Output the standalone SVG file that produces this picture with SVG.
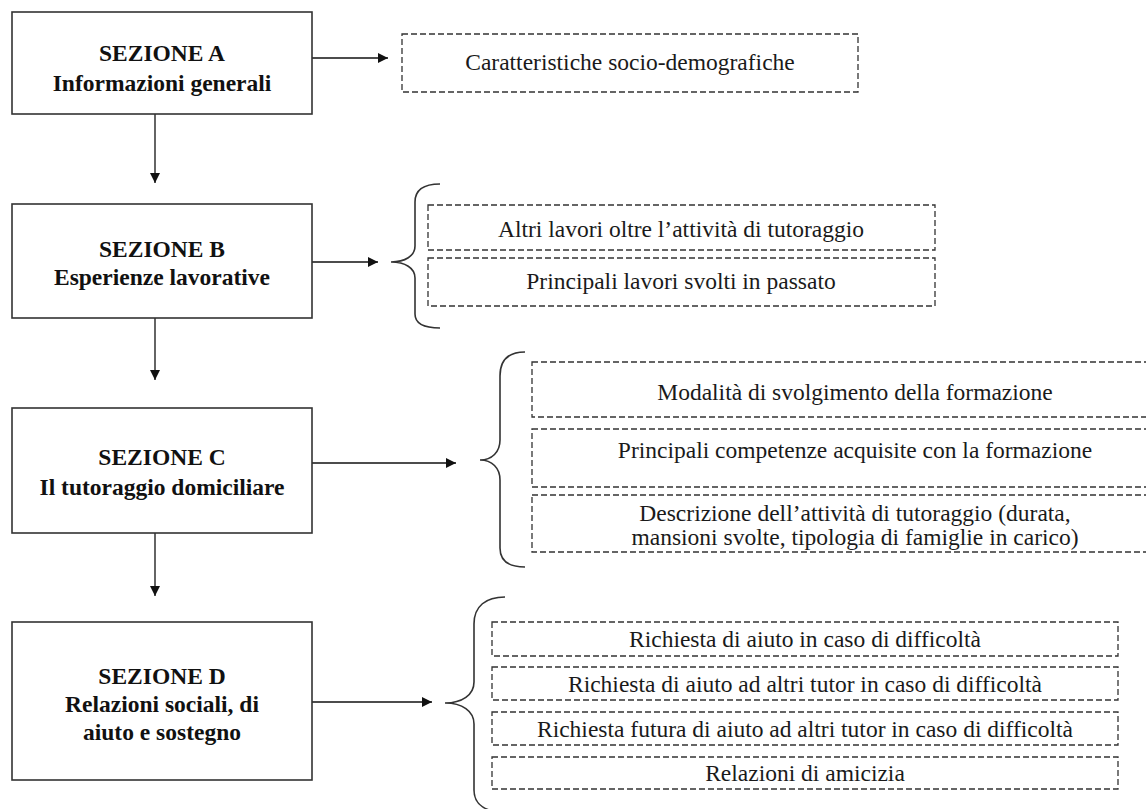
<svg xmlns="http://www.w3.org/2000/svg" width="1146" height="809" viewBox="0 0 1146 809">
  <defs>
    <marker id="arrow" viewBox="0 0 10 10" refX="10" refY="5" markerWidth="10" markerHeight="10" markerUnits="userSpaceOnUse" orient="auto">
      <path d="M0,0 L10,5 L0,10 Z" fill="#111"/>
    </marker>
    <style>
      .section { fill: #fff; stroke: #333; stroke-width: 1.6; }
      .item { fill: #fff; stroke: #333; stroke-width: 1.3; stroke-dasharray: 6 3; }
      .title { font-family: "Liberation Serif", "DejaVu Serif", serif; font-weight: bold; font-size: 23.5px; fill: #111; text-anchor: middle; }
      .label { font-family: "Liberation Serif", "DejaVu Serif", serif; font-size: 23.5px; fill: #1a1a1a; text-anchor: middle; }
      .conn { fill: none; stroke: #111; stroke-width: 1.3; }
      .brace { fill: none; stroke: #333; stroke-width: 1.6; }
    </style>
  </defs>
  <rect width="1146" height="809" fill="#fff"/>

  <!-- Connectors -->
  <g id="connectors">
    <line class="conn" x1="312" y1="58" x2="388" y2="58" marker-end="url(#arrow)"/>
    <line class="conn" x1="155" y1="114" x2="155" y2="183" marker-end="url(#arrow)"/>
    <line class="conn" x1="312" y1="262" x2="378" y2="262" marker-end="url(#arrow)"/>
    <line class="conn" x1="155" y1="318" x2="155" y2="380" marker-end="url(#arrow)"/>
    <line class="conn" x1="312" y1="463" x2="456" y2="463" marker-end="url(#arrow)"/>
    <line class="conn" x1="155" y1="533" x2="155" y2="596" marker-end="url(#arrow)"/>
    <line class="conn" x1="312" y1="702" x2="432" y2="702" marker-end="url(#arrow)"/>
    <!-- curly braces grouping the items -->
    <path class="brace" d="M440,184 C424,184 415,189 415,202 L415,246 C415,256 405,262 391,262 C405,262 415,268 415,278 L415,314 C415,324 424,328 440,328"/>
    <path class="brace" d="M525,352 C508,352 500,360 500,376 L500,440 C500,452 492,460 480,460 C492,460 500,468 500,480 L500,548 C500,560 508,567 525,567"/>
    <path class="brace" d="M505,597 C486,597 474,606 474,624 L474,682 C474,695 462,703 445,703 C462,703 474,711 474,724 L474,790 C474,805 486,812 505,812"/>
  </g>

  <!-- Section A -->
  <g id="sezione-a">
    <rect class="section" x="12" y="12" width="300" height="102"/>
    <text class="title" x="162" y="61">SEZIONE A</text>
    <text class="title" x="162" y="91">Informazioni generali</text>
  </g>
  <g id="item-a1">
    <rect class="item" x="402" y="34" width="456" height="58"/>
    <text class="label" x="630" y="70">Caratteristiche socio-demografiche</text>
  </g>

  <!-- Section B -->
  <g id="sezione-b">
    <rect class="section" x="12" y="204" width="300" height="114"/>
    <text class="title" x="162" y="257">SEZIONE B</text>
    <text class="title" x="162" y="285">Esperienze lavorative</text>
  </g>
  <g id="item-b1">
    <rect class="item" x="428" y="205" width="507" height="45"/>
    <text class="label" x="681" y="237">Altri lavori oltre l’attività di tutoraggio</text>
  </g>
  <g id="item-b2">
    <rect class="item" x="428" y="258" width="507" height="48"/>
    <text class="label" x="681" y="289">Principali lavori svolti in passato</text>
  </g>

  <!-- Section C -->
  <g id="sezione-c">
    <rect class="section" x="12" y="408" width="300" height="125"/>
    <text class="title" x="162" y="465">SEZIONE C</text>
    <text class="title" x="162" y="495">Il tutoraggio domiciliare</text>
  </g>
  <g id="item-c1">
    <rect class="item" x="532" y="362" width="640" height="55"/>
    <text class="label" x="855" y="400">Modalità di svolgimento della formazione</text>
  </g>
  <g id="item-c2">
    <rect class="item" x="532" y="429" width="640" height="58"/>
    <text class="label" x="855" y="458">Principali competenze acquisite con la formazione</text>
  </g>
  <g id="item-c3">
    <rect class="item" x="532" y="495" width="640" height="57"/>
    <text class="label" x="855" y="521">Descrizione dell’attività di tutoraggio (durata,</text>
    <text class="label" x="855" y="545">mansioni svolte, tipologia di famiglie in carico)</text>
  </g>

  <!-- Section D -->
  <g id="sezione-d">
    <rect class="section" x="12" y="622" width="300" height="158"/>
    <text class="title" x="162" y="684">SEZIONE D</text>
    <text class="title" x="162" y="712">Relazioni sociali, di</text>
    <text class="title" x="162" y="740">aiuto e sostegno</text>
  </g>
  <g id="item-d1">
    <rect class="item" x="492" y="622" width="626" height="34"/>
    <text class="label" x="805" y="647">Richiesta di aiuto in caso di difficoltà</text>
  </g>
  <g id="item-d2">
    <rect class="item" x="492" y="667" width="626" height="33"/>
    <text class="label" x="805" y="692">Richiesta di aiuto ad altri tutor in caso di difficoltà</text>
  </g>
  <g id="item-d3">
    <rect class="item" x="492" y="712" width="626" height="33"/>
    <text class="label" x="805" y="737">Richiesta futura di aiuto ad altri tutor in caso di difficoltà</text>
  </g>
  <g id="item-d4">
    <rect class="item" x="492" y="757" width="626" height="32"/>
    <text class="label" x="805" y="781">Relazioni di amicizia</text>
  </g>
</svg>
